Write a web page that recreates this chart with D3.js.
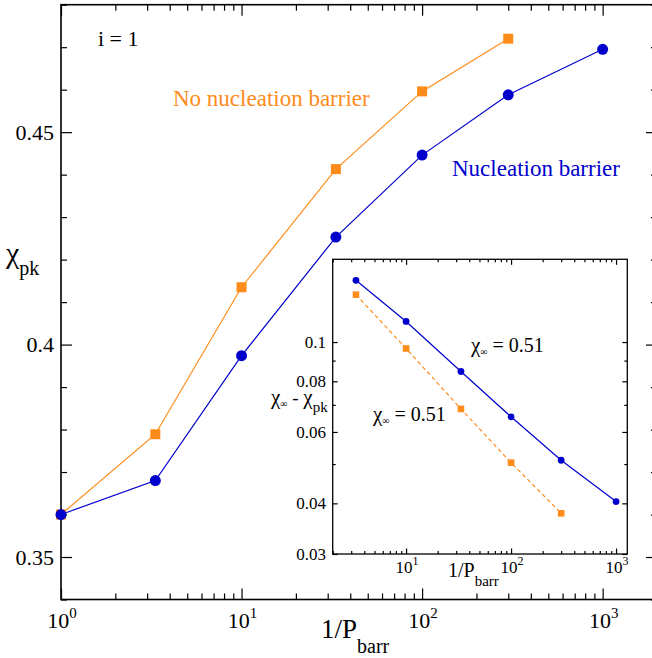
<!DOCTYPE html>
<html>
<head>
<meta charset="utf-8">
<script src="https://cdn.jsdelivr.net/npm/d3@7"></script>
<style>
body { margin: 0; background: #fff; }
</style>
</head>
<body>
<div id="chart"></div>
<script>
// main panel: chi_pk against 1/P_barr
var pBarrInv = [1, 3.33, 10, 33.3, 100, 300, 1000];
var chiNucleation = [0.360, 0.368, 0.3974, 0.4253, 0.4446, 0.4588, 0.4695];
var pBarrInvNoBarr = [1, 3.33, 10, 33.3, 100, 300];
var chiNoBarrier = [0.360, 0.3789, 0.4135, 0.4413, 0.4596, 0.472];

// inset: chi_inf - chi_pk, log-log
var insetX = [3.33, 10, 33.3, 100, 300, 1000];
var insetNucleation = [0.1420, 0.1124, 0.0846, 0.0654, 0.0511, 0.0404];
var insetXNoBarr = [3.33, 10, 33.3, 100, 300];
var insetNoBarrier = [0.1309, 0.0964, 0.0684, 0.0504, 0.0378];

var mainYMajor = [0.35, 0.4, 0.45];
var mainYMinor = [0.34, 0.36, 0.37, 0.38, 0.39, 0.41, 0.42, 0.43, 0.44, 0.46, 0.47, 0.48];
var mainYLabels = ["0.35", "0.4", "0.45"];
var xDecades = [1, 10, 100, 1000];
var xDecadeExp = ["0", "1", "2", "3"];
var insetXDecades = [10, 100, 1000];
var insetXExp = ["1", "2", "3"];
var insetYMajor = [0.03, 0.04, 0.06, 0.08, 0.1];
var insetYLabels = ["0.03", "0.04", "0.06", "0.08", "0.1"];
var insetYMinor = [0.05, 0.07, 0.09];

var BLUE = "#0000cd";
var ORANGE = "#ff8c1a";
var SERIF = "'Liberation Serif'";

function logMinors(lo, hi) {
	var out = [];
	for (var d = 1; d <= 1000; d *= 10) {
		for (var k = 2; k <= 9; k++) {
			var v = k * d;
			if (v >= lo && v <= hi) out.push(v);
		}
	}
	return out;
}

var svg = d3.select("#chart").append("svg")
	.attr("width", 652).attr("height", 658);

var x = d3.scaleLog().domain([1, 2000]).range([61, 657]);
var y = d3.scaleLinear().domain([0.34, 0.48]).range([599.5, 4.7]);

function drawTicks(g, scale, values, len, orient, pos) {
	var axis;
	if (orient == "bottom") axis = d3.axisBottom(scale);
	else if (orient == "top") axis = d3.axisTop(scale);
	else if (orient == "left") axis = d3.axisLeft(scale);
	else axis = d3.axisRight(scale);
	axis.tickValues(values).tickSize(-len).tickFormat("");
	var a = g.append("g")
		.attr("transform", (orient == "bottom" || orient == "top") ?
			"translate(0," + pos + ")" : "translate(" + pos + ",0)")
		.call(axis);
	a.select(".domain").remove();
	a.selectAll("line").attr("stroke", "#000").attr("stroke-width", 1.2);
}

function label(g, px, py, size) {
	return g.append("text").attr("x", px).attr("y", py)
		.style("font-family", SERIF).attr("font-size", size);
}

// main frame + ticks
var main = svg.append("g");
drawTicks(main, x, xDecades, 11, "bottom", 599.5);
drawTicks(main, x, logMinors(1, 2000), 6, "bottom", 599.5);
drawTicks(main, x, xDecades, 11, "top", 4.7);
drawTicks(main, x, logMinors(1, 2000), 6, "top", 4.7);
drawTicks(main, y, mainYMajor, 11, "left", 61);
drawTicks(main, y, mainYMinor, 6, "left", 61);
drawTicks(main, y, mainYMajor, 11, "right", 657);
drawTicks(main, y, mainYMinor, 6, "right", 657);
main.append("rect").attr("x", 61).attr("y", 4.7)
	.attr("width", 596).attr("height", 594.8)
	.attr("fill", "none").attr("stroke", "#000").attr("stroke-width", 1.6);

// main tick labels
xDecades.forEach(function(v, i) {
	var t = label(main, x(v) + 1, 627.5, 22).attr("text-anchor", "middle");
	t.append("tspan").text("10");
	t.append("tspan").attr("dy", -10).attr("font-size", 15).text(xDecadeExp[i]);
});
mainYMajor.forEach(function(v, i) {
	label(main, 54, y(v) + 7.5, 22).attr("text-anchor", "end").text(mainYLabels[i]);
});

// axis titles
var yl = label(main, 6, 263, 30);
yl.append("tspan").text("\u03c7");
yl.append("tspan").attr("font-size", 20).attr("dy", 12).text("pk");
var xl = label(main, 321, 638, 27);
xl.append("tspan").text("1/P");
xl.append("tspan").attr("font-size", 20).attr("dy", 15).text("barr");

label(main, 98, 46, 22).text("i = 1");
label(main, 173, 106, 23).attr("fill", ORANGE).text("No nucleation barrier");
label(main, 452, 176, 23).attr("fill", BLUE).text("Nucleation barrier");

// main series
var mainLine = d3.line().x(function(d) { return x(d[0]); }).y(function(d) { return y(d[1]); });
var noBarrData = d3.zip(pBarrInvNoBarr, chiNoBarrier);
var nucData = d3.zip(pBarrInv, chiNucleation);

main.append("path").attr("d", mainLine(noBarrData)).attr("fill", "none")
	.attr("stroke", ORANGE).attr("stroke-width", 1.2);
main.append("path").attr("d", mainLine(nucData)).attr("fill", "none")
	.attr("stroke", BLUE).attr("stroke-width", 1.2);
main.selectAll(".sq").data(noBarrData).enter().append("rect")
	.attr("x", function(d) { return x(d[0]) - 5; })
	.attr("y", function(d) { return y(d[1]) - 5; })
	.attr("width", 10).attr("height", 10).attr("fill", ORANGE);
main.selectAll(".ci").data(nucData).enter().append("circle")
	.attr("cx", function(d) { return x(d[0]); })
	.attr("cy", function(d) { return y(d[1]); })
	.attr("r", 5.5).attr("fill", BLUE);

// inset
var xi = d3.scaleLog().domain([2, 1280]).range([332.7, 627.3]);
var yi = d3.scaleLog().domain([0.03, 0.16]).range([554, 259.3]);
var inset = svg.append("g");
inset.append("rect").attr("x", 332.7).attr("y", 259.3)
	.attr("width", 294.6).attr("height", 294.7).attr("fill", "#fff");
drawTicks(inset, xi, insetXDecades, 5.5, "bottom", 554);
drawTicks(inset, xi, logMinors(2, 1280), 3, "bottom", 554);
drawTicks(inset, xi, insetXDecades, 5.5, "top", 259.3);
drawTicks(inset, xi, logMinors(2, 1280), 3, "top", 259.3);
drawTicks(inset, yi, insetYMajor, 5, "left", 332.7);
drawTicks(inset, yi, insetYMinor, 3, "left", 332.7);
drawTicks(inset, yi, insetYMajor, 5, "right", 627.3);
drawTicks(inset, yi, insetYMinor, 3, "right", 627.3);
inset.append("rect").attr("x", 332.7).attr("y", 259.3)
	.attr("width", 294.6).attr("height", 294.7)
	.attr("fill", "none").attr("stroke", "#000").attr("stroke-width", 1.3);

insetXDecades.forEach(function(v, i) {
	var t = label(inset, xi(v) + 1, 573, 17).attr("text-anchor", "middle");
	t.append("tspan").text("10");
	t.append("tspan").attr("dy", -8).attr("font-size", 12).text(insetXExp[i]);
});
insetYMajor.forEach(function(v, i) {
	label(inset, 326, yi(v) + 6, 17).attr("text-anchor", "end").text(insetYLabels[i]);
});

var ixl = label(inset, 448, 577, 20);
ixl.append("tspan").text("1/P");
ixl.append("tspan").attr("font-size", 15).attr("dy", 9).text("barr");

var iyl = label(inset, 271, 404, 21);
iyl.append("tspan").text("\u03c7");
iyl.append("tspan").attr("font-size", 10).attr("dy", 3).text("\u221e");
iyl.append("tspan").attr("font-size", 19).attr("dy", -3).text(" - ");
iyl.append("tspan").text("\u03c7");
iyl.append("tspan").attr("font-size", 15).attr("dy", 8).text("pk");

function chiInfLabel(px, py) {
	var t = label(inset, px, py, 21);
	t.append("tspan").text("\u03c7");
	t.append("tspan").attr("font-size", 10).attr("dy", 3).text("\u221e");
	t.append("tspan").attr("font-size", 20).attr("dy", -3).text(" = 0.51");
}
chiInfLabel(471, 352);
chiInfLabel(373, 421);

var insetLine = d3.line().x(function(d) { return xi(d[0]); }).y(function(d) { return yi(d[1]); });
var inNo = d3.zip(insetXNoBarr, insetNoBarrier);
var inNuc = d3.zip(insetX, insetNucleation);
inset.append("path").attr("d", insetLine(inNo)).attr("fill", "none")
	.attr("stroke", ORANGE).attr("stroke-width", 1.2).attr("stroke-dasharray", "4,3");
inset.append("path").attr("d", insetLine(inNuc)).attr("fill", "none")
	.attr("stroke", BLUE).attr("stroke-width", 1.2);
inset.selectAll(".isq").data(inNo).enter().append("rect")
	.attr("x", function(d) { return xi(d[0]) - 3.3; })
	.attr("y", function(d) { return yi(d[1]) - 3.3; })
	.attr("width", 6.6).attr("height", 6.6).attr("fill", ORANGE);
inset.selectAll(".ici").data(inNuc).enter().append("circle")
	.attr("cx", function(d) { return xi(d[0]); })
	.attr("cy", function(d) { return yi(d[1]); })
	.attr("r", 3.4).attr("fill", BLUE);
</script>
</body>
</html>
